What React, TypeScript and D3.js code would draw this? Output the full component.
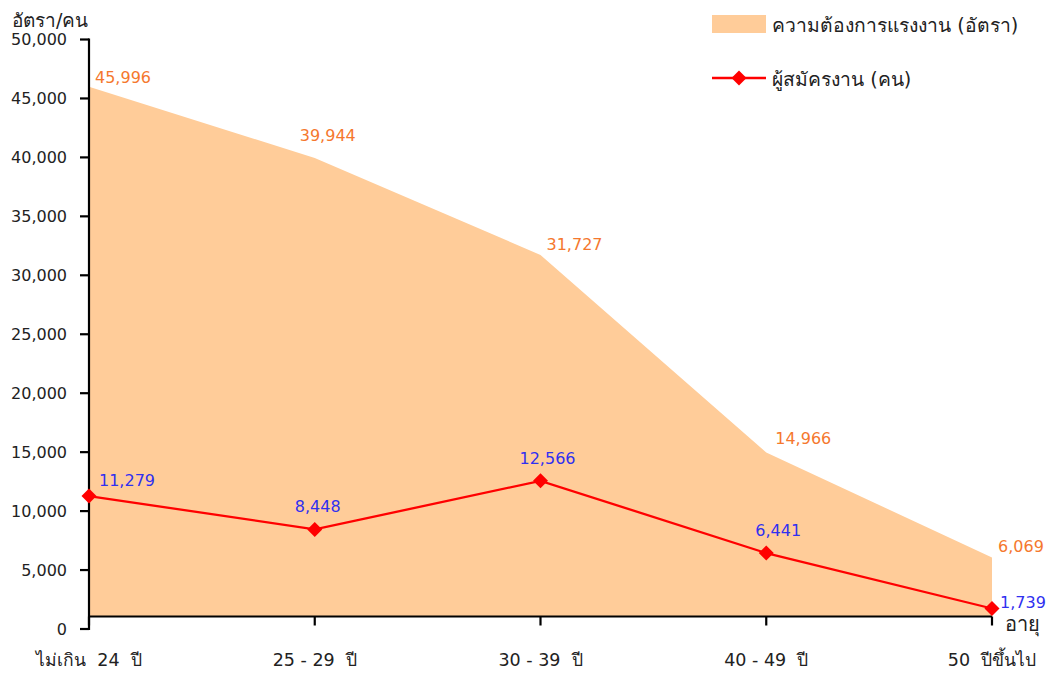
import * as d3 from "d3";
import { useEffect, useRef } from "react";

const categories = ["ไม่เกิน  24  ปี", "25 - 29  ปี", "30 - 39  ปี", "40 - 49  ปี", "50  ปีขึ้นไป"];
const demand = [45996, 39944, 31727, 14966, 6069];
const applicants = [11279, 8448, 12566, 6441, 1739];
const yTicks = [0, 5000, 10000, 15000, 20000, 25000, 30000, 35000, 40000, 45000, 50000];

// label offsets relative to each point (Excel-style placement)
const demandLabelOffsets = [
  { dx: 6, dy: -4, anchor: "start" },
  { dx: 13, dy: -17, anchor: "middle" },
  { dx: 6, dy: -5, anchor: "start" },
  { dx: 9, dy: -9, anchor: "start" },
  { dx: 6, dy: -5, anchor: "start" },
];
const applicantLabelOffsets = [
  { dx: 10, dy: -10, anchor: "start" },
  { dx: 3, dy: -17, anchor: "middle" },
  { dx: 7, dy: -17, anchor: "middle" },
  { dx: 12, dy: -17, anchor: "middle" },
  { dx: 8, dy: 0, anchor: "start" },
];

const FONT = "'DejaVu Sans', 'Noto Sans', sans-serif";
const ORANGE = "#F5782E";
const BLUE = "#3030F0";

export default function App() {
  const svgRef = useRef<SVGSVGElement>(null);

  useEffect(() => {
    if (!svgRef.current) return;
    const svg = d3.select(svgRef.current);
    svg.selectAll("*").remove();

    const left = 89;
    const right = 992;
    const top = 39.5;
    const zeroY = 629;
    const axisY = 616.5;

    const x = d3.scalePoint<string>().domain(categories).range([left, right]);
    const y = d3.scaleLinear().domain([0, 50000]).range([zeroY, top]);

    // area (demand), clipped to the category axis line
    const area = d3
      .area<number>()
      .x((_, i) => x(categories[i])!)
      .y0(axisY)
      .y1((d) => y(d));
    svg.append("path").datum(demand).attr("d", area).attr("fill", "#FFCC99");

    // y axis
    const yAxis = svg.append("g").attr("transform", `translate(${left},0)`);
    yAxis
      .append("line")
      .attr("x1", 0)
      .attr("x2", 0)
      .attr("y1", top - 1)
      .attr("y2", zeroY + 1)
      .attr("stroke", "#000")
      .attr("stroke-width", 2.2);
    yAxis
      .selectAll(".tick")
      .data(yTicks)
      .enter()
      .append("line")
      .attr("x1", -9)
      .attr("x2", 0)
      .attr("y1", (d) => y(d))
      .attr("y2", (d) => y(d))
      .attr("stroke", "#000")
      .attr("stroke-width", 2.2);
    yAxis
      .selectAll(".lbl")
      .data(yTicks)
      .enter()
      .append("text")
      .attr("x", -22)
      .attr("y", (d) => y(d))
      .attr("dy", "0.35em")
      .attr("text-anchor", "end")
      .style("font-family", FONT)
      .style("font-size", "16px")
      .attr("fill", "#222")
      .text((d) => d3.format(",")(d));

    // x axis
    const xAxis = svg.append("g");
    xAxis
      .append("line")
      .attr("x1", left)
      .attr("x2", right)
      .attr("y1", axisY)
      .attr("y2", axisY)
      .attr("stroke", "#000")
      .attr("stroke-width", 2.2);
    xAxis
      .selectAll(".tick")
      .data(categories)
      .enter()
      .append("line")
      .attr("x1", (d) => x(d)!)
      .attr("x2", (d) => x(d)!)
      .attr("y1", axisY)
      .attr("y2", axisY + 9)
      .attr("stroke", "#000")
      .attr("stroke-width", 2.2);
    xAxis
      .selectAll(".lbl")
      .data(categories)
      .enter()
      .append("text")
      .attr("x", (d) => x(d)!)
      .attr("y", 666)
      .attr("text-anchor", "middle")
      .style("font-family", FONT)
      .style("font-size", "17.5px")
      .style("white-space", "pre")
      .attr("fill", "#222")
      .text((d) => d);

    // axis titles
    svg
      .append("text")
      .attr("x", 12)
      .attr("y", 27)
      .style("font-family", FONT)
      .style("font-size", "19px")
      .attr("fill", "#222")
      .text("อัตรา/คน");
    svg
      .append("text")
      .attr("x", 1005)
      .attr("y", 631)
      .style("font-family", FONT)
      .style("font-size", "20px")
      .attr("fill", "#222")
      .text("อายุ");

    // applicants line
    const line = d3
      .line<number>()
      .x((_, i) => x(categories[i])!)
      .y((d) => y(d));
    svg
      .append("path")
      .datum(applicants)
      .attr("d", line)
      .attr("fill", "none")
      .attr("stroke", "#FF0000")
      .attr("stroke-width", 2.3);

    const diamond = (cx: number, cy: number, r: number) =>
      `M${cx},${cy - r}L${cx + r},${cy}L${cx},${cy + r}L${cx - r},${cy}Z`;
    svg
      .selectAll(".marker")
      .data(applicants)
      .enter()
      .append("path")
      .attr("d", (d, i) => diamond(x(categories[i])!, y(d), 7.5))
      .attr("fill", "#FF0000");

    // data labels
    svg
      .selectAll(".dlbl")
      .data(demand)
      .enter()
      .append("text")
      .attr("x", (d, i) => x(categories[i])! + demandLabelOffsets[i].dx)
      .attr("y", (d, i) => y(d) + demandLabelOffsets[i].dy)
      .attr("text-anchor", (d, i) => demandLabelOffsets[i].anchor)
      .style("font-family", FONT)
      .style("font-size", "16px")
      .attr("fill", ORANGE)
      .text((d) => d3.format(",")(d));
    svg
      .selectAll(".albl")
      .data(applicants)
      .enter()
      .append("text")
      .attr("x", (d, i) => x(categories[i])! + applicantLabelOffsets[i].dx)
      .attr("y", (d, i) => y(d) + applicantLabelOffsets[i].dy)
      .attr("text-anchor", (d, i) => applicantLabelOffsets[i].anchor)
      .style("font-family", FONT)
      .style("font-size", "16px")
      .attr("fill", BLUE)
      .text((d) => d3.format(",")(d));

    // legend
    const legend = svg.append("g");
    legend
      .append("rect")
      .attr("x", 712)
      .attr("y", 15)
      .attr("width", 54)
      .attr("height", 18)
      .attr("fill", "#FFCC99");
    legend
      .append("text")
      .attr("x", 772)
      .attr("y", 32)
      .style("font-family", FONT)
      .style("font-size", "19.3px")
      .attr("fill", "#222")
      .text("ความต้องการแรงงาน (อัตรา)");
    legend
      .append("line")
      .attr("x1", 712)
      .attr("x2", 766)
      .attr("y1", 78)
      .attr("y2", 78)
      .attr("stroke", "#FF0000")
      .attr("stroke-width", 2.3);
    legend.append("path").attr("d", diamond(739, 78, 7.5)).attr("fill", "#FF0000");
    legend
      .append("text")
      .attr("x", 772)
      .attr("y", 86)
      .style("font-family", FONT)
      .style("font-size", "19.3px")
      .attr("fill", "#222")
      .text("ผู้สมัครงาน (คน)");
  }, []);

  return (
    <svg
      ref={svgRef}
      width={1054}
      height={675}
      style={{ position: "absolute", left: 0, top: 0, background: "#fff" }}
    />
  );
}
